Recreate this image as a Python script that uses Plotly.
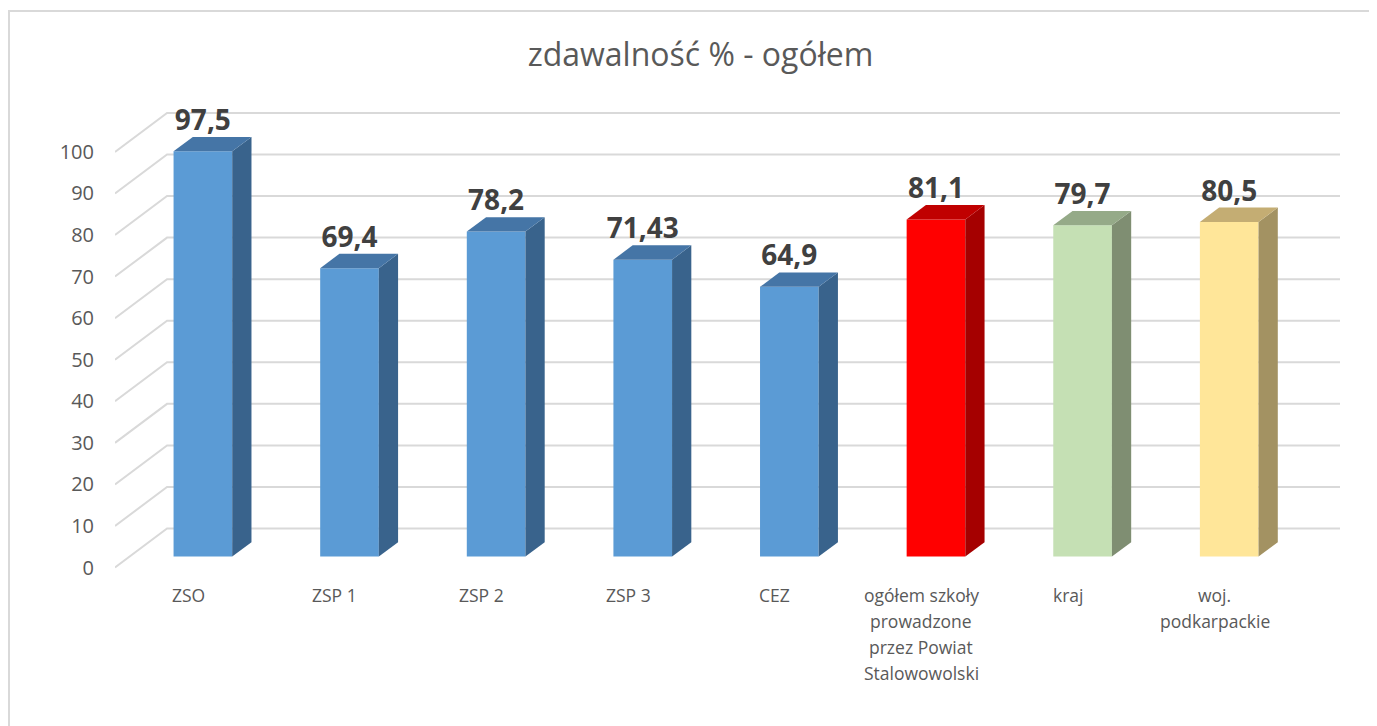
import plotly.graph_objects as go

# dane
categories = ["ZSO", "ZSP 1", "ZSP 2", "ZSP 3", "CEZ",
              "ogółem szkoły<br>prowadzone<br>przez Powiat<br>Stalowowolski",
              "kraj", "woj.<br>podkarpackie"]
values = [97.5, 69.4, 78.2, 71.43, 64.9, 81.1, 79.7, 80.5]
value_labels = ["97,5", "69,4", "78,2", "71,43", "64,9", "81,1", "79,7", "80,5"]
y_ticks = [0, 10, 20, 30, 40, 50, 60, 70, 80, 90, 100]

# kolory: przód, góra, bok
front_colors = ["#5B9BD5"] * 5 + ["#FF0000", "#C5E0B4", "#FFE699"]
top_colors = ["#4575A6"] * 5 + ["#C00000", "#95AA88", "#C4AD73"]
side_colors = ["#39638C"] * 5 + ["#A50000", "#7F8E72", "#A39262"]

# rzut ukośny "3D" (w jednostkach osi)
DEPTH_X = 0.355
DEPTH_Y = 9.375
BAR_FRONT = 0.28
BAR_BACK = 0.65
BAR_W = 0.40

# strona ma 8px marginesu body, więc wszystko przesunięte o 8px
W, H = 1377, 726
ML, MR, MT, MB = 107, 45, 94, 153.5
plot_h = H - MT - MB
plot_w = W - ML - MR

n = len(categories)
fig = go.Figure()

# siatka jako kształty pod słupkami: ukośnie po "podłodze" + poziomo na tylnej ścianie
shapes = []
for v in y_ticks:
    shapes.append(dict(type="path", xref="x", yref="y", layer="below",
                       path="M %f,%f L %f,%f L %f,%f" % (
                           -0.5, v, -0.5 + DEPTH_X, v + DEPTH_Y,
                           n - 0.5 + DEPTH_X, v + DEPTH_Y),
                       line=dict(color="#D9D9D9", width=2)))
# ramka wykresu
shapes.append(dict(type="rect", xref="paper", yref="paper", layer="below",
                   x0=(1 - ML) / plot_w, x1=(W + 5 - ML) / plot_w,
                   y0=-(MB + 5) / plot_h, y1=(H - MB - 3) / plot_h,
                   line=dict(color="#D9D9D9", width=2)))

base = BAR_FRONT * DEPTH_Y
dx = (BAR_BACK - BAR_FRONT) * DEPTH_X
dy = (BAR_BACK - BAR_FRONT) * DEPTH_Y
fx = [i + BAR_FRONT * DEPTH_X for i in range(n)]

# boki i wierzchy słupków
for i, v in enumerate(values):
    left = fx[i] - BAR_W / 2
    right = fx[i] + BAR_W / 2
    top = base + v
    fig.add_trace(go.Scatter(
        x=[right, right + dx, right + dx, right, right],
        y=[base, base + dy, top + dy, top, base],
        mode="lines", fill="toself", fillcolor=side_colors[i],
        line=dict(width=0, color=side_colors[i]), hoverinfo="skip"))
    fig.add_trace(go.Scatter(
        x=[left, right, right + dx, left + dx, left],
        y=[top, top, top + dy, top + dy, top],
        mode="lines", fill="toself", fillcolor=top_colors[i],
        line=dict(width=0, color=top_colors[i]), hoverinfo="skip"))

# przednie ściany
fig.add_trace(go.Bar(x=fx, y=values, base=base, width=BAR_W,
                     marker=dict(color=front_colors, line=dict(width=0))))

# etykiety wartości
fig.add_trace(go.Scatter(
    x=fx, y=[base + v + dy for v in values], mode="text",
    text=value_labels, textposition="top center", cliponaxis=False,
    textfont=dict(family="Open Sans", size=28, color="#404040", weight="bold"),
    hoverinfo="skip"))

# podpisy kategorii (osobne wiersze, większy odstęp niż w ticktext)
annotations = []
for i, cat in enumerate(categories):
    for k, line in enumerate(cat.split("<br>")):
        annotations.append(dict(x=i, y=0, xref="x", yref="paper", text=line,
                                showarrow=False, yanchor="middle",
                                yshift=-(14.5 + 26 * k),
                                font=dict(family="Open Sans", size=17.5,
                                          color="#595959")))

fig.update_layout(
    width=W, height=H,
    margin=dict(l=ML, r=MR, t=MT, b=MB),
    paper_bgcolor="white", plot_bgcolor="white",
    showlegend=False,
    font=dict(family="Open Sans", color="#595959"),
    title=dict(text="zdawalność % - ogółem", x=(ML + plot_w / 2 - 27) / W,
               xanchor="center", y=1 - 47 / H, yanchor="middle",
               font=dict(family="Open Sans", size=32, color="#595959")),
    shapes=shapes,
    annotations=annotations,
)

fig.update_xaxes(range=[-0.5, n - 0.5 + DEPTH_X], showticklabels=False,
                 showgrid=False, zeroline=False, showline=False)
fig.update_yaxes(range=[-3, 112], tickvals=y_ticks, showgrid=False,
                 zeroline=False, showline=False, ticklabelstandoff=20,
                 tickfont=dict(size=20, color="#595959"))

fig.write_html("out.html")
